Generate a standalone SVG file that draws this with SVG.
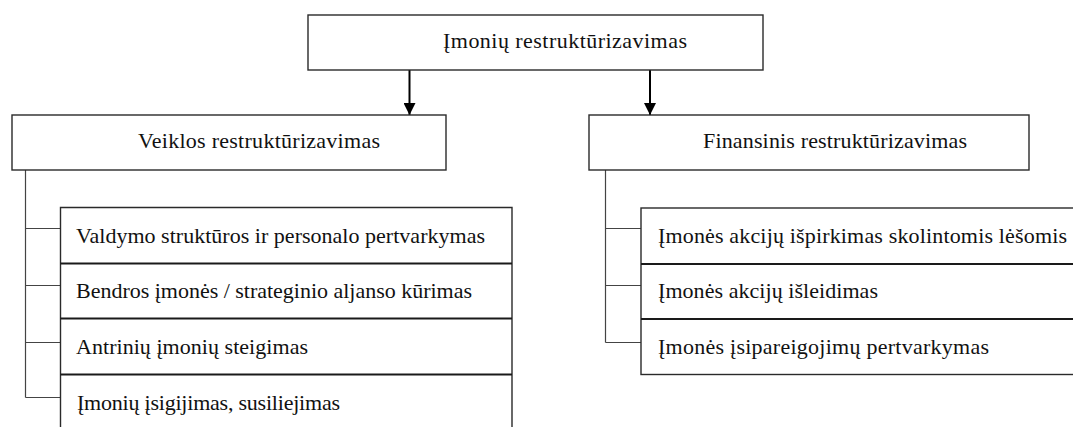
<svg xmlns="http://www.w3.org/2000/svg" width="1073" height="427" viewBox="0 0 1073 427">
<defs>
<style>
.box{fill:#fff;stroke:#2a2a2a;stroke-width:1.4}
.div{stroke:#1a1a1a;stroke-width:1.8;fill:none}
.br{stroke:#444;stroke-width:1.2;fill:none}
.arr{stroke:#000;stroke-width:2;fill:none}
text{font-family:"Liberation Serif","DejaVu Serif",serif;font-size:22px;fill:#111}
</style>
<marker id="ah" viewBox="0 0 12 12" refX="12" refY="6" markerWidth="12" markerHeight="12" markerUnits="userSpaceOnUse" orient="auto">
<path d="M0,0 L12,6 L0,12 z" fill="#000"/>
</marker>
</defs>
<g id="connectors">
<line class="arr" x1="409.5" y1="70" x2="409.5" y2="115" marker-end="url(#ah)"/>
<line class="arr" x1="650" y1="70" x2="650" y2="115" marker-end="url(#ah)"/>
<path class="br" d="M25.5 170 V397.5 M25.5 228.5 H60.5 M25.5 285.5 H60.5 M25.5 342.5 H60.5 M25.5 397.5 H60.5"/>
<path class="br" d="M605.5 170 V342.5 M605.5 228.5 H641 M605.5 285.5 H641 M605.5 342.5 H641"/>
</g>
<g id="root">
<rect class="box" x="308" y="15" width="455" height="55"/>
<text x="443" y="48" textLength="244">Įmonių restruktūrizavimas</text>
</g>
<g id="veiklos">
<rect class="box" x="12" y="115" width="434" height="55"/>
<text x="138" y="148" textLength="242">Veiklos restruktūrizavimas</text>
</g>
<g id="finansinis">
<rect class="box" x="589" y="115" width="440" height="55"/>
<text x="703" y="148" textLength="264">Finansinis restruktūrizavimas</text>
</g>
<g id="veiklos-items">
<path class="box" d="M60.5 430 V207.5 H512 V430"/>
<path class="div" d="M60.5 263.5 H512 M60.5 318.5 H512 M60.5 374.5 H512"/>
<text x="76" y="243" textLength="409">Valdymo struktūros ir personalo pertvarkymas</text>
<text x="76" y="298" textLength="396">Bendros įmonės / strateginio aljanso kūrimas</text>
<text x="76" y="354" textLength="232">Antrinių įmonių steigimas</text>
<text x="77" y="410" textLength="263">Įmonių įsigijimas, susiliejimas</text>
</g>
<g id="finansinis-items">
<rect class="box" x="641" y="208" width="440" height="166.5"/>
<path class="div" d="M641 264 H1073 M641 319 H1073"/>
<text x="658" y="243" textLength="409">Įmonės akcijų išpirkimas skolintomis lėšomis</text>
<text x="658" y="298" textLength="220">Įmonės akcijų išleidimas</text>
<text x="658" y="354" textLength="331">Įmonės įsipareigojimų pertvarkymas</text>
</g>
</svg>
